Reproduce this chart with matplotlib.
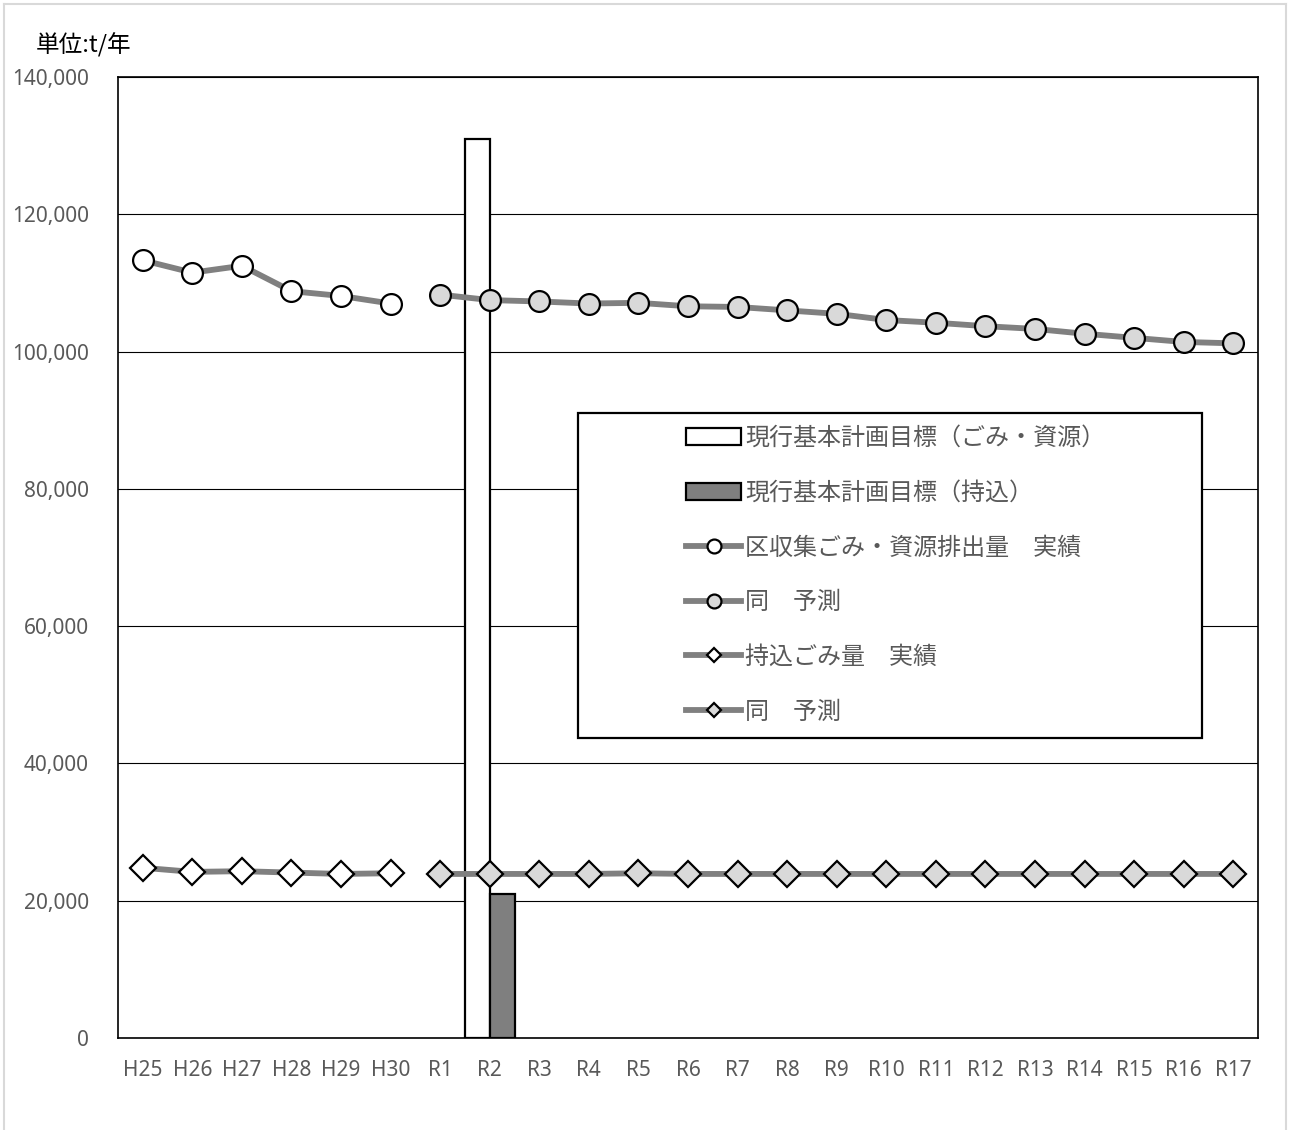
import matplotlib
matplotlib.use("Agg")
import matplotlib.pyplot as plt
from matplotlib.ticker import FuncFormatter
from matplotlib.patches import Rectangle, Patch
from matplotlib.lines import Line2D
import numpy as np

plt.rcParams['font.family'] = ['Noto Sans CJK JP', 'DejaVu Sans']

categories = ["H25", "H26", "H27", "H28", "H29", "H30",
              "R1", "R2", "R3", "R4", "R5", "R6", "R7", "R8", "R9", "R10",
              "R11", "R12", "R13", "R14", "R15", "R16", "R17"]
actual_years = ["H25", "H26", "H27", "H28", "H29", "H30"]
forecast_years = ["R1", "R2", "R3", "R4", "R5", "R6", "R7", "R8", "R9", "R10",
                  "R11", "R12", "R13", "R14", "R15", "R16", "R17"]

collect_actual = [113300, 111500, 112500, 108800, 108100, 107000]
collect_forecast = [108300, 107500, 107300, 107000, 107100, 106600, 106500,
                    106000, 105500, 104600, 104200, 103700, 103300, 102600,
                    102000, 101400, 101200]
carry_actual = [24800, 24200, 24300, 24100, 23900, 24000]
carry_forecast = [23900, 23900, 23900, 23900, 24000, 23900, 23900, 23900, 23900,
                  23900, 23900, 23900, 23900, 23900, 23900, 23900, 23900]

target_year = "R2"
target_collect = 131000
target_carry = 21000

labels = ["現行基本計画目標（ごみ・資源）", "現行基本計画目標（持込）",
          "区収集ごみ・資源排出量　実績", "同　予測",
          "持込ごみ量　実績", "同　予測"]

W, H = 1289, 1130
fig = plt.figure(figsize=(W / 100, H / 100), dpi=100)
ax = fig.add_axes([118 / W, 1 - 1038 / H, (1258 - 118) / W, (1038 - 77) / H])

idx = {c: i for i, c in enumerate(categories)}
xa = [idx[c] for c in actual_years]
xf = [idx[c] for c in forecast_years]
xt = idx[target_year]

line_c = "#808080"
txt_c = "#595959"

bw = 0.5
ax.bar(xt - bw / 2, target_collect, width=bw, color="white", edgecolor="black",
       linewidth=1.6, zorder=3)
ax.bar(xt + bw / 2, target_carry, width=bw, color="#7f7f7f", edgecolor="black",
       linewidth=1.6, zorder=3)

lw = 4.2
ms_c = 15
ms_d = 13
ax.plot(xa, collect_actual, color=line_c, lw=lw, marker="o", ms=ms_c,
        mfc="white", mec="black", mew=1.6, zorder=4)
ax.plot(xf, collect_forecast, color=line_c, lw=lw, marker="o", ms=ms_c,
        mfc="#d9d9d9", mec="black", mew=1.6, zorder=4)
ax.plot(xa, carry_actual, color=line_c, lw=lw, marker="D", ms=ms_d,
        mfc="white", mec="black", mew=1.6, zorder=4)
ax.plot(xf, carry_forecast, color=line_c, lw=lw, marker="D", ms=ms_d,
        mfc="#d9d9d9", mec="black", mew=1.6, zorder=4)

ax.set_xlim(-0.5, len(categories) - 0.5)
ax.set_ylim(0, 140000)
ax.set_yticks(np.arange(0, 140001, 20000))
ax.yaxis.set_major_formatter(FuncFormatter(lambda v, p: f"{int(v):,}"))
ax.set_xticks(range(len(categories)))
ax.set_xticklabels(categories)
ax.grid(axis="y", color="black", lw=0.8, zorder=1)
ax.set_axisbelow(True)
for s in ax.spines.values():
    s.set_color("black")
    s.set_linewidth(1.2)
ax.tick_params(axis="both", length=0, labelcolor=txt_c, labelsize=15,
               labelfontfamily="Noto Sans")
ax.tick_params(axis="y", pad=21)
ax.tick_params(axis="x", pad=16)

fig.text(36 / W, 1 - 45 / H, "単位:t/年", fontsize=17, color="black",
         va="center", ha="left")

# legend frame
fig.patches.append(Rectangle((578 / W, 1 - 738 / H), (1202 - 578) / W,
                             (738 - 413) / H, transform=fig.transFigure,
                             facecolor="white", edgecolor="black", lw=1.6,
                             zorder=5))

handles = [
    Patch(facecolor="white", edgecolor="black", lw=1.6),
    Patch(facecolor="#7f7f7f", edgecolor="black", lw=1.6),
    Line2D([], [], color=line_c, lw=lw, marker="o", ms=10, mfc="white",
           mec="black", mew=1.6),
    Line2D([], [], color=line_c, lw=lw, marker="o", ms=10, mfc="#d9d9d9",
           mec="black", mew=1.6),
    Line2D([], [], color=line_c, lw=lw, marker="D", ms=7, mfc="white",
           mec="black", mew=1.6),
    Line2D([], [], color=line_c, lw=lw, marker="D", ms=7, mfc="#d9d9d9",
           mec="black", mew=1.6),
]
leg = fig.legend(handles, labels, loc="upper left",
                 bbox_to_anchor=(686 / W, 1 - 425 / H),
                 frameon=False, fontsize=17.3, labelcolor=txt_c,
                 handlelength=2.3, handletextpad=0.15, labelspacing=1.195,
                 borderpad=0, borderaxespad=0)
leg.set_zorder(6)

# outer border
for xs, ys in [([4, 4], [4, 1135]), ([4, 1286], [4, 4]), ([1286, 1286], [4, 1135])]:
    fig.add_artist(Line2D([x / W for x in xs], [1 - y / H for y in ys],
                          transform=fig.transFigure, color="#d9d9d9", lw=1.5))

fig.savefig("out.png", dpi=100)
